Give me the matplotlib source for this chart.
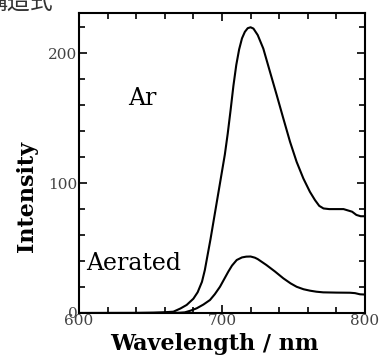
import matplotlib
matplotlib.use("Agg")
import matplotlib.pyplot as plt
from matplotlib.ticker import MultipleLocator

# emission spectra
wl_ar = [600, 640, 652, 660, 666, 671, 675.3, 680, 683, 686, 688, 690, 692, 694,
         696, 698, 700, 702, 704, 706, 708, 710, 712, 714, 716, 718, 720, 722,
         725, 728.9, 733.6, 738.3, 742.9, 747.6, 752.2, 756.9, 761.5, 765, 768,
         771, 775, 780, 785, 788, 791, 794, 797, 800]
int_ar = [0, 0.1, 0.3, 0.6, 1, 3.5, 6.2, 11, 16, 24, 33, 45, 57, 70,
          83, 96, 109, 122, 138, 156, 175, 191, 203, 211.5, 216.5, 219.3, 220, 219,
          214, 203.6, 185.6, 167.7, 149.8, 131.8, 116.4, 103.6, 93.3, 87, 82.5,
          80.5, 80, 80, 80, 79, 78, 75.5, 74.5, 74.5]

wl_air = [600, 660, 670, 674, 678, 682.3, 687, 691.6, 695, 698.6, 701.5, 704.4,
          707, 710.3, 714, 717, 720, 723, 725, 731, 737, 742.9, 748, 752.2, 757,
          761.5, 766, 770.8, 780, 789.5, 793, 796.5, 800]
int_air = [0, 0, 0.2, 0.5, 1.8, 3.6, 6.5, 10, 14.5, 20.2, 26, 31.8,
           36.5, 40.8, 42.8, 43.4, 43.5, 42.6, 41.5, 37, 32, 26.7, 22.8, 20.2, 18.3,
           17.2, 16.4, 15.9, 15.7, 15.6, 15.3, 14.4, 14.2]

plt.rcParams["font.family"] = ["DejaVu Serif"]

fig = plt.figure(figsize=(3.79, 3.58), dpi=100)
ax = fig.add_axes([0.2084, 0.1257, 0.7546, 0.838])

ax.plot(wl_ar, int_ar, color="black", lw=1.5)
ax.plot(wl_air, int_air, color="black", lw=1.5)

ax.set_xlim(600, 800)
ax.set_ylim(0, 231)
ax.xaxis.set_major_locator(MultipleLocator(100))
ax.xaxis.set_minor_locator(MultipleLocator(20))
ax.yaxis.set_major_locator(MultipleLocator(100))
ax.yaxis.set_minor_locator(MultipleLocator(20))
ax.tick_params(which="both", direction="in", top=True, right=True, width=1.2,
               labelsize=11, labelcolor="#444444")
ax.tick_params(which="major", length=6)
ax.tick_params(which="minor", length=4)
ax.tick_params(axis="x", pad=1)
ax.tick_params(axis="y", pad=1)
for s in ax.spines.values():
    s.set_linewidth(1.5)

ax.set_xlabel("Wavelength / nm", fontsize=16, fontweight="bold")
ax.set_ylabel("Intensity", fontsize=16, fontweight="bold")
ax.xaxis.set_label_coords(0.472, -0.068)
ax.yaxis.set_label_coords(-0.142, 0.387)

ax.text(644.5, 165, "Ar", fontsize=17, ha="center", va="center")
ax.text(605, 33, "Aerated", fontsize=17, ha="left", va="baseline")

# clipped caption at the top-left corner
fig.text(-0.042, 1 - 9 / 358, "構造式", fontsize=16.5, color="#333333",
         family=["Noto Sans CJK JP", "DejaVu Sans"], va="baseline", ha="left")

fig.savefig("out.png", dpi=100)
